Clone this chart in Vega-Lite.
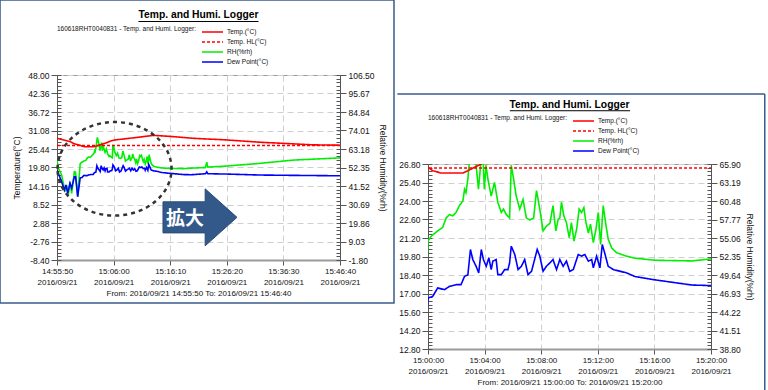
{
  "$schema": "https://vega.github.io/schema/vega-lite/v6.json",
  "padding": {"left": -2, "top": -2, "right": 0, "bottom": 0},
  "background": "white",
  "config": {
    "font": "Liberation Sans",
    "view": {"stroke": "#9a9a9a", "strokeWidth": 1},
    "axis": {"labelFont": "Liberation Sans", "titleFont": "Liberation Sans", "labelColor": "#111", "titleColor": "#111", "titleFontWeight": "normal", "labelOverlap": false, "labelFlush": false, "gridColor": "#cfcfcf", "gridDash": [6, 4], "gridWidth": 1, "tickColor": "#555", "domainColor": "#555"},
    "legend": {"labelFont": "Liberation Sans", "titleFont": "Liberation Sans", "orient": "top", "direction": "vertical", "offset": 9, "titleOrient": "left", "titleFontSize": 6.5, "titleFontWeight": "normal", "titlePadding": 4, "titleAnchor": "start", "titleColor": "#111", "labelColor": "#111", "labelFontSize": 6.5, "symbolType": "M -1 0 L 3.2 0", "symbolSize": 100, "symbolStrokeWidth": 1.5, "labelOffset": 14, "rowPadding": 0}
  },
  "resolve": {"scale": {"color": "independent", "strokeDash": "independent"}, "legend": {"color": "independent", "strokeDash": "independent"}},
  "datasets": {
    "logger": [
      {"time": "2016-09-21T14:55:50", "series": "Temp.(°C)", "value": 28.7},
      {"time": "2016-09-21T14:58:10", "series": "Temp.(°C)", "value": 27.7},
      {"time": "2016-09-21T14:59:00", "series": "Temp.(°C)", "value": 27.0},
      {"time": "2016-09-21T15:00:00", "series": "Temp.(°C)", "value": 26.55},
      {"time": "2016-09-21T15:00:20", "series": "Temp.(°C)", "value": 26.29},
      {"time": "2016-09-21T15:00:55", "series": "Temp.(°C)", "value": 26.12},
      {"time": "2016-09-21T15:02:28", "series": "Temp.(°C)", "value": 26.12},
      {"time": "2016-09-21T15:02:49", "series": "Temp.(°C)", "value": 26.29},
      {"time": "2016-09-21T15:03:17", "series": "Temp.(°C)", "value": 26.55},
      {"time": "2016-09-21T15:03:46", "series": "Temp.(°C)", "value": 26.8},
      {"time": "2016-09-21T15:04:07", "series": "Temp.(°C)", "value": 27.0},
      {"time": "2016-09-21T15:04:40", "series": "Temp.(°C)", "value": 27.3},
      {"time": "2016-09-21T15:05:22", "series": "Temp.(°C)", "value": 27.8},
      {"time": "2016-09-21T15:06:16", "series": "Temp.(°C)", "value": 28.2},
      {"time": "2016-09-21T15:09:52", "series": "Temp.(°C)", "value": 28.9},
      {"time": "2016-09-21T15:13:10", "series": "Temp.(°C)", "value": 29.6},
      {"time": "2016-09-21T15:16:00", "series": "Temp.(°C)", "value": 29.3},
      {"time": "2016-09-21T15:20:20", "series": "Temp.(°C)", "value": 28.7},
      {"time": "2016-09-21T15:26:20", "series": "Temp.(°C)", "value": 28.2},
      {"time": "2016-09-21T15:32:20", "series": "Temp.(°C)", "value": 27.5},
      {"time": "2016-09-21T15:38:20", "series": "Temp.(°C)", "value": 27.0},
      {"time": "2016-09-21T15:41:56", "series": "Temp.(°C)", "value": 26.7},
      {"time": "2016-09-21T15:46:40", "series": "Temp.(°C)", "value": 26.6},
      {"time": "2016-09-21T14:55:50", "series": "Temp. HL(°C)", "value": 26.5},
      {"time": "2016-09-21T15:46:40", "series": "Temp. HL(°C)", "value": 26.5},
      {"time": "2016-09-21T14:55:50", "series": "RH(%rh)", "value": 56.7},
      {"time": "2016-09-21T14:56:04", "series": "RH(%rh)", "value": 51.9},
      {"time": "2016-09-21T14:56:40", "series": "RH(%rh)", "value": 48.0},
      {"time": "2016-09-21T14:57:16", "series": "RH(%rh)", "value": 38.2},
      {"time": "2016-09-21T14:57:34", "series": "RH(%rh)", "value": 42.1},
      {"time": "2016-09-21T14:57:52", "series": "RH(%rh)", "value": 36.2},
      {"time": "2016-09-21T14:58:10", "series": "RH(%rh)", "value": 44.0},
      {"time": "2016-09-21T14:58:28", "series": "RH(%rh)", "value": 37.2},
      {"time": "2016-09-21T14:58:57", "series": "RH(%rh)", "value": 49.9},
      {"time": "2016-09-21T14:59:10", "series": "RH(%rh)", "value": 49.6},
      {"time": "2016-09-21T14:59:33", "series": "RH(%rh)", "value": 35.3},
      {"time": "2016-09-21T15:00:00", "series": "RH(%rh)", "value": 54.6},
      {"time": "2016-09-21T15:00:13", "series": "RH(%rh)", "value": 55.3},
      {"time": "2016-09-21T15:00:41", "series": "RH(%rh)", "value": 56.1},
      {"time": "2016-09-21T15:01:02", "series": "RH(%rh)", "value": 56.6},
      {"time": "2016-09-21T15:01:17", "series": "RH(%rh)", "value": 58.0},
      {"time": "2016-09-21T15:01:31", "series": "RH(%rh)", "value": 58.5},
      {"time": "2016-09-21T15:01:45", "series": "RH(%rh)", "value": 58.3},
      {"time": "2016-09-21T15:01:59", "series": "RH(%rh)", "value": 58.8},
      {"time": "2016-09-21T15:02:13", "series": "RH(%rh)", "value": 59.8},
      {"time": "2016-09-21T15:02:28", "series": "RH(%rh)", "value": 60.5},
      {"time": "2016-09-21T15:02:35", "series": "RH(%rh)", "value": 62.2},
      {"time": "2016-09-21T15:02:41", "series": "RH(%rh)", "value": 61.7},
      {"time": "2016-09-21T15:02:49", "series": "RH(%rh)", "value": 63.7},
      {"time": "2016-09-21T15:03:05", "series": "RH(%rh)", "value": 70.0},
      {"time": "2016-09-21T15:03:15", "series": "RH(%rh)", "value": 67.5},
      {"time": "2016-09-21T15:03:24", "series": "RH(%rh)", "value": 65.7},
      {"time": "2016-09-21T15:03:34", "series": "RH(%rh)", "value": 62.2},
      {"time": "2016-09-21T15:03:43", "series": "RH(%rh)", "value": 65.7},
      {"time": "2016-09-21T15:03:53", "series": "RH(%rh)", "value": 67.0},
      {"time": "2016-09-21T15:03:59", "series": "RH(%rh)", "value": 62.2},
      {"time": "2016-09-21T15:04:06", "series": "RH(%rh)", "value": 65.7},
      {"time": "2016-09-21T15:04:14", "series": "RH(%rh)", "value": 63.7},
      {"time": "2016-09-21T15:04:28", "series": "RH(%rh)", "value": 61.2},
      {"time": "2016-09-21T15:04:42", "series": "RH(%rh)", "value": 63.2},
      {"time": "2016-09-21T15:04:56", "series": "RH(%rh)", "value": 60.3},
      {"time": "2016-09-21T15:05:11", "series": "RH(%rh)", "value": 58.8},
      {"time": "2016-09-21T15:05:20", "series": "RH(%rh)", "value": 59.3},
      {"time": "2016-09-21T15:05:32", "series": "RH(%rh)", "value": 58.5},
      {"time": "2016-09-21T15:05:46", "series": "RH(%rh)", "value": 58.0},
      {"time": "2016-09-21T15:05:53", "series": "RH(%rh)", "value": 65.7},
      {"time": "2016-09-21T15:06:03", "series": "RH(%rh)", "value": 63.7},
      {"time": "2016-09-21T15:06:14", "series": "RH(%rh)", "value": 61.2},
      {"time": "2016-09-21T15:06:29", "series": "RH(%rh)", "value": 59.3},
      {"time": "2016-09-21T15:06:43", "series": "RH(%rh)", "value": 60.7},
      {"time": "2016-09-21T15:06:57", "series": "RH(%rh)", "value": 58.0},
      {"time": "2016-09-21T15:07:11", "series": "RH(%rh)", "value": 57.7},
      {"time": "2016-09-21T15:07:28", "series": "RH(%rh)", "value": 58.0},
      {"time": "2016-09-21T15:07:40", "series": "RH(%rh)", "value": 62.0},
      {"time": "2016-09-21T15:07:54", "series": "RH(%rh)", "value": 59.3},
      {"time": "2016-09-21T15:08:08", "series": "RH(%rh)", "value": 56.1},
      {"time": "2016-09-21T15:08:22", "series": "RH(%rh)", "value": 56.8},
      {"time": "2016-09-21T15:08:37", "series": "RH(%rh)", "value": 57.2},
      {"time": "2016-09-21T15:08:50", "series": "RH(%rh)", "value": 59.8},
      {"time": "2016-09-21T15:09:02", "series": "RH(%rh)", "value": 56.1},
      {"time": "2016-09-21T15:09:12", "series": "RH(%rh)", "value": 57.8},
      {"time": "2016-09-21T15:09:19", "series": "RH(%rh)", "value": 58.0},
      {"time": "2016-09-21T15:09:26", "series": "RH(%rh)", "value": 60.3},
      {"time": "2016-09-21T15:09:36", "series": "RH(%rh)", "value": 58.3},
      {"time": "2016-09-21T15:09:47", "series": "RH(%rh)", "value": 57.3},
      {"time": "2016-09-21T15:09:59", "series": "RH(%rh)", "value": 55.1},
      {"time": "2016-09-21T15:10:08", "series": "RH(%rh)", "value": 57.3},
      {"time": "2016-09-21T15:10:19", "series": "RH(%rh)", "value": 54.6},
      {"time": "2016-09-21T15:10:30", "series": "RH(%rh)", "value": 56.3},
      {"time": "2016-09-21T15:10:41", "series": "RH(%rh)", "value": 59.3},
      {"time": "2016-09-21T15:10:51", "series": "RH(%rh)", "value": 58.8},
      {"time": "2016-09-21T15:11:01", "series": "RH(%rh)", "value": 59.5},
      {"time": "2016-09-21T15:11:10", "series": "RH(%rh)", "value": 57.3},
      {"time": "2016-09-21T15:11:20", "series": "RH(%rh)", "value": 55.8},
      {"time": "2016-09-21T15:11:29", "series": "RH(%rh)", "value": 57.1},
      {"time": "2016-09-21T15:11:41", "series": "RH(%rh)", "value": 54.4},
      {"time": "2016-09-21T15:11:52", "series": "RH(%rh)", "value": 56.3},
      {"time": "2016-09-21T15:12:02", "series": "RH(%rh)", "value": 58.8},
      {"time": "2016-09-21T15:12:12", "series": "RH(%rh)", "value": 54.1},
      {"time": "2016-09-21T15:12:23", "series": "RH(%rh)", "value": 59.8},
      {"time": "2016-09-21T15:12:33", "series": "RH(%rh)", "value": 57.3},
      {"time": "2016-09-21T15:12:44", "series": "RH(%rh)", "value": 54.9},
      {"time": "2016-09-21T15:12:59", "series": "RH(%rh)", "value": 53.6},
      {"time": "2016-09-21T15:13:20", "series": "RH(%rh)", "value": 52.9},
      {"time": "2016-09-21T15:14:02", "series": "RH(%rh)", "value": 52.4},
      {"time": "2016-09-21T15:14:38", "series": "RH(%rh)", "value": 52.1},
      {"time": "2016-09-21T15:16:03", "series": "RH(%rh)", "value": 51.8},
      {"time": "2016-09-21T15:18:39", "series": "RH(%rh)", "value": 51.7},
      {"time": "2016-09-21T15:20:00", "series": "RH(%rh)", "value": 52.0},
      {"time": "2016-09-21T15:22:30", "series": "RH(%rh)", "value": 52.3},
      {"time": "2016-09-21T15:22:44", "series": "RH(%rh)", "value": 55.5},
      {"time": "2016-09-21T15:22:55", "series": "RH(%rh)", "value": 52.6},
      {"time": "2016-09-21T15:26:20", "series": "RH(%rh)", "value": 53.2},
      {"time": "2016-09-21T15:32:20", "series": "RH(%rh)", "value": 54.8},
      {"time": "2016-09-21T15:38:20", "series": "RH(%rh)", "value": 56.7},
      {"time": "2016-09-21T15:44:55", "series": "RH(%rh)", "value": 57.7},
      {"time": "2016-09-21T15:46:40", "series": "RH(%rh)", "value": 58.0},
      {"time": "2016-09-21T14:55:50", "series": "Dew Point(°C)", "value": 19.0},
      {"time": "2016-09-21T14:56:04", "series": "Dew Point(°C)", "value": 18.0},
      {"time": "2016-09-21T14:56:40", "series": "Dew Point(°C)", "value": 15.5},
      {"time": "2016-09-21T14:57:09", "series": "Dew Point(°C)", "value": 12.9},
      {"time": "2016-09-21T14:57:27", "series": "Dew Point(°C)", "value": 14.5},
      {"time": "2016-09-21T14:57:45", "series": "Dew Point(°C)", "value": 11.9},
      {"time": "2016-09-21T14:58:10", "series": "Dew Point(°C)", "value": 15.0},
      {"time": "2016-09-21T14:58:28", "series": "Dew Point(°C)", "value": 13.5},
      {"time": "2016-09-21T14:58:57", "series": "Dew Point(°C)", "value": 17.0},
      {"time": "2016-09-21T14:59:10", "series": "Dew Point(°C)", "value": 17.0},
      {"time": "2016-09-21T14:59:33", "series": "Dew Point(°C)", "value": 10.9},
      {"time": "2016-09-21T15:00:00", "series": "Dew Point(°C)", "value": 16.65},
      {"time": "2016-09-21T15:00:20", "series": "Dew Point(°C)", "value": 16.78},
      {"time": "2016-09-21T15:00:41", "series": "Dew Point(°C)", "value": 17.42},
      {"time": "2016-09-21T15:01:10", "series": "Dew Point(°C)", "value": 17.29},
      {"time": "2016-09-21T15:01:31", "series": "Dew Point(°C)", "value": 17.54},
      {"time": "2016-09-21T15:01:59", "series": "Dew Point(°C)", "value": 17.67},
      {"time": "2016-09-21T15:02:20", "series": "Dew Point(°C)", "value": 17.67},
      {"time": "2016-09-21T15:02:35", "series": "Dew Point(°C)", "value": 18.3},
      {"time": "2016-09-21T15:02:49", "series": "Dew Point(°C)", "value": 18.4},
      {"time": "2016-09-21T15:03:00", "series": "Dew Point(°C)", "value": 20.33},
      {"time": "2016-09-21T15:03:10", "series": "Dew Point(°C)", "value": 19.57},
      {"time": "2016-09-21T15:03:24", "series": "Dew Point(°C)", "value": 19.06},
      {"time": "2016-09-21T15:03:35", "series": "Dew Point(°C)", "value": 18.56},
      {"time": "2016-09-21T15:03:46", "series": "Dew Point(°C)", "value": 20.33},
      {"time": "2016-09-21T15:03:55", "series": "Dew Point(°C)", "value": 19.57},
      {"time": "2016-09-21T15:04:07", "series": "Dew Point(°C)", "value": 19.06},
      {"time": "2016-09-21T15:04:18", "series": "Dew Point(°C)", "value": 19.7},
      {"time": "2016-09-21T15:04:28", "series": "Dew Point(°C)", "value": 18.81},
      {"time": "2016-09-21T15:04:35", "series": "Dew Point(°C)", "value": 19.45},
      {"time": "2016-09-21T15:04:49", "series": "Dew Point(°C)", "value": 19.57},
      {"time": "2016-09-21T15:04:56", "series": "Dew Point(°C)", "value": 18.43},
      {"time": "2016-09-21T15:05:11", "series": "Dew Point(°C)", "value": 18.43},
      {"time": "2016-09-21T15:05:25", "series": "Dew Point(°C)", "value": 18.81},
      {"time": "2016-09-21T15:05:39", "series": "Dew Point(°C)", "value": 18.81},
      {"time": "2016-09-21T15:05:46", "series": "Dew Point(°C)", "value": 19.32},
      {"time": "2016-09-21T15:05:53", "series": "Dew Point(°C)", "value": 20.58},
      {"time": "2016-09-21T15:06:08", "series": "Dew Point(°C)", "value": 19.95},
      {"time": "2016-09-21T15:06:22", "series": "Dew Point(°C)", "value": 18.81},
      {"time": "2016-09-21T15:06:36", "series": "Dew Point(°C)", "value": 19.06},
      {"time": "2016-09-21T15:06:50", "series": "Dew Point(°C)", "value": 19.57},
      {"time": "2016-09-21T15:07:04", "series": "Dew Point(°C)", "value": 18.43},
      {"time": "2016-09-21T15:07:19", "series": "Dew Point(°C)", "value": 18.68},
      {"time": "2016-09-21T15:07:32", "series": "Dew Point(°C)", "value": 19.57},
      {"time": "2016-09-21T15:07:43", "series": "Dew Point(°C)", "value": 20.33},
      {"time": "2016-09-21T15:07:54", "series": "Dew Point(°C)", "value": 19.83},
      {"time": "2016-09-21T15:08:08", "series": "Dew Point(°C)", "value": 18.68},
      {"time": "2016-09-21T15:08:22", "series": "Dew Point(°C)", "value": 19.06},
      {"time": "2016-09-21T15:08:37", "series": "Dew Point(°C)", "value": 19.32},
      {"time": "2016-09-21T15:08:50", "series": "Dew Point(°C)", "value": 19.57},
      {"time": "2016-09-21T15:09:05", "series": "Dew Point(°C)", "value": 18.81},
      {"time": "2016-09-21T15:09:19", "series": "Dew Point(°C)", "value": 19.57},
      {"time": "2016-09-21T15:09:33", "series": "Dew Point(°C)", "value": 19.06},
      {"time": "2016-09-21T15:09:47", "series": "Dew Point(°C)", "value": 19.45},
      {"time": "2016-09-21T15:10:01", "series": "Dew Point(°C)", "value": 18.68},
      {"time": "2016-09-21T15:10:16", "series": "Dew Point(°C)", "value": 18.81},
      {"time": "2016-09-21T15:10:37", "series": "Dew Point(°C)", "value": 19.95},
      {"time": "2016-09-21T15:10:51", "series": "Dew Point(°C)", "value": 19.83},
      {"time": "2016-09-21T15:11:05", "series": "Dew Point(°C)", "value": 19.95},
      {"time": "2016-09-21T15:11:20", "series": "Dew Point(°C)", "value": 19.45},
      {"time": "2016-09-21T15:11:34", "series": "Dew Point(°C)", "value": 19.57},
      {"time": "2016-09-21T15:11:41", "series": "Dew Point(°C)", "value": 18.94},
      {"time": "2016-09-21T15:11:55", "series": "Dew Point(°C)", "value": 19.83},
      {"time": "2016-09-21T15:12:09", "series": "Dew Point(°C)", "value": 18.94},
      {"time": "2016-09-21T15:12:19", "series": "Dew Point(°C)", "value": 20.71},
      {"time": "2016-09-21T15:12:31", "series": "Dew Point(°C)", "value": 19.95},
      {"time": "2016-09-21T15:12:44", "series": "Dew Point(°C)", "value": 19.06},
      {"time": "2016-09-21T15:13:06", "series": "Dew Point(°C)", "value": 18.81},
      {"time": "2016-09-21T15:14:02", "series": "Dew Point(°C)", "value": 18.56},
      {"time": "2016-09-21T15:14:38", "series": "Dew Point(°C)", "value": 18.28},
      {"time": "2016-09-21T15:16:03", "series": "Dew Point(°C)", "value": 18.03},
      {"time": "2016-09-21T15:18:39", "series": "Dew Point(°C)", "value": 17.64},
      {"time": "2016-09-21T15:20:00", "series": "Dew Point(°C)", "value": 17.6},
      {"time": "2016-09-21T15:22:30", "series": "Dew Point(°C)", "value": 17.9},
      {"time": "2016-09-21T15:22:44", "series": "Dew Point(°C)", "value": 18.5},
      {"time": "2016-09-21T15:22:55", "series": "Dew Point(°C)", "value": 17.9},
      {"time": "2016-09-21T15:26:20", "series": "Dew Point(°C)", "value": 17.8},
      {"time": "2016-09-21T15:32:20", "series": "Dew Point(°C)", "value": 17.5},
      {"time": "2016-09-21T15:38:20", "series": "Dew Point(°C)", "value": 17.4},
      {"time": "2016-09-21T15:44:55", "series": "Dew Point(°C)", "value": 17.3},
      {"time": "2016-09-21T15:46:40", "series": "Dew Point(°C)", "value": 17.3}
    ]
  },
  "hconcat": [
    {
      "width": 283,
      "height": 185,
      "title": {"text": "Temp. and Humi. Logger", "fontSize": 10.3, "fontWeight": "bold", "anchor": "middle", "frame": "group", "offset": -21, "color": "#000"},
      "layer": [
        {
          "data": {"values": [{"start": "2016-09-21T14:45:36", "end": "2016-09-21T15:56:22", "low": -21.51, "high": 70.86}]},
          "mark": {"type": "rect", "fillOpacity": 0, "stroke": "#3a5c8c", "strokeWidth": 1.5},
          "encoding": {
            "x": {"field": "start", "type": "temporal"},
            "x2": {"field": "end"},
            "y": {"field": "low", "type": "quantitative", "scale": {"domain": [-8.4, 48], "nice": false, "zero": false}, "axis": null},
            "y2": {"field": "high"}
          }
        },
        {
          "data": {"name": "logger"},
          "transform": [{"filter": "datum.series == 'RH(%rh)'"}],
          "mark": {"type": "line", "strokeWidth": 1.6, "clip": true},
          "encoding": {
            "x": {"field": "time", "type": "temporal", "scale": {"domain": [{"year": 2016, "month": 9, "date": 21, "hours": 14, "minutes": 55, "seconds": 50}, {"year": 2016, "month": 9, "date": 21, "hours": 15, "minutes": 46, "seconds": 40}]},
              "axis": {"values": [{"year": 2016, "month": 9, "date": 21, "hours": 14, "minutes": 55, "seconds": 50}, {"year": 2016, "month": 9, "date": 21, "hours": 15, "minutes": 6, "seconds": 0}, {"year": 2016, "month": 9, "date": 21, "hours": 15, "minutes": 16, "seconds": 10}, {"year": 2016, "month": 9, "date": 21, "hours": 15, "minutes": 26, "seconds": 20}, {"year": 2016, "month": 9, "date": 21, "hours": 15, "minutes": 36, "seconds": 30}, {"year": 2016, "month": 9, "date": 21, "hours": 15, "minutes": 46, "seconds": 40}],
                "labelExpr": "[timeFormat(datum.value, '%H:%M:%S'), timeFormat(datum.value, '%Y/%m/%d')]", "labelFontSize": 8, "labelLineHeight": 11, "tickSize": 5, "labelPadding": 2, "domainColor": "#9a9a9a", "domainWidth": 2, "title": "From: 2016/09/21 14:55:50   To: 2016/09/21 15:46:40", "titleFontSize": 8, "titlePadding": 3}},
            "y": {"field": "value", "type": "quantitative", "scale": {"domain": [-1.8, 106.5], "nice": false, "zero": false},
              "axis": {"orient": "right", "values": [-1.8, 9.03, 19.86, 30.69, 41.52, 52.35, 63.18, 74.01, 84.84, 95.67, 106.5], "labelExpr": "replace(format(datum.value, '.2f'), '−', '-')", "grid": false, "labelFontSize": 8.5, "tickSize": 6, "labelPadding": 2, "title": "Relative Humidity(%rh)", "titleFontSize": 8.5, "titlePadding": 4}},
            "color": {"field": "series", "type": "nominal", "scale": {"domain": ["Temp.(°C)", "Temp. HL(°C)", "RH(%rh)", "Dew Point(°C)"], "range": ["#ff0000", "#ff0000", "#00ee00", "#0000ff"]},
              "legend": {"title": "160618RHT0040831 - Temp. and Humi. Logger:"}},
            "strokeDash": {"field": "series", "type": "nominal", "scale": {"domain": ["Temp.(°C)", "Temp. HL(°C)", "RH(%rh)", "Dew Point(°C)"], "range": [[1, 0], [3, 2], [1, 0], [1, 0]]},
              "legend": {"title": "160618RHT0040831 - Temp. and Humi. Logger:"}}
          }
        },
        {
          "data": {"name": "logger"},
          "transform": [{"filter": "datum.series != 'RH(%rh)'"}],
          "mark": {"type": "line", "strokeWidth": 1.6, "clip": true},
          "encoding": {
            "x": {"field": "time", "type": "temporal"},
            "y": {"field": "value", "type": "quantitative", "scale": {"domain": [-8.4, 48], "nice": false, "zero": false},
              "axis": {"orient": "left", "values": [-8.4, -2.76, 2.88, 8.52, 14.16, 19.8, 25.44, 31.08, 36.72, 42.36, 48], "labelExpr": "replace(format(datum.value, '.2f'), '−', '-')", "grid": true, "labelFontSize": 8.5, "tickSize": 6, "labelPadding": 2, "title": "Temperature(°C)", "titleFontSize": 8.5, "titlePadding": 6}},
            "color": {"field": "series", "type": "nominal"},
            "strokeDash": {"field": "series", "type": "nominal"}
          }
        },
        {
          "data": {"name": "logger"},
          "transform": [{"filter": "datum.series == 'Dew Point(°C)'"}],
          "mark": {"type": "line", "opacity": 0},
          "encoding": {
            "x": {"field": "time", "type": "temporal"},
            "y": {"field": "value", "type": "quantitative", "scale": {"domain": [-8.4, 48], "nice": false, "zero": false},
              "axis": {"orient": "left", "values": [-8.4, -7.272, -6.144, -5.016, -3.888, -2.76, -1.632, -0.504, 0.624, 1.752, 2.88, 4.008, 5.136, 6.264, 7.392, 8.52, 9.648, 10.776, 11.904, 13.032, 14.16, 15.288, 16.416, 17.544, 18.672, 19.8, 20.928, 22.056, 23.184, 24.312, 25.44, 26.568, 27.696, 28.824, 29.952, 31.08, 32.208, 33.336, 34.464, 35.592, 36.72, 37.848, 38.976, 40.104, 41.232, 42.36, 43.488, 44.616, 45.744, 46.872, 48], "labels": false, "tickSize": -4, "domain": false, "grid": false, "title": null}}
          }
        },
        {
          "data": {"name": "logger"},
          "transform": [{"filter": "datum.series == 'RH(%rh)'"}],
          "mark": {"type": "line", "opacity": 0},
          "encoding": {
            "x": {"field": "time", "type": "temporal"},
            "y": {"field": "value", "type": "quantitative", "scale": {"domain": [-1.8, 106.5], "nice": false, "zero": false},
              "axis": {"orient": "right", "values": [-1.8, 0.366, 2.532, 4.698, 6.864, 9.03, 11.196, 13.362, 15.528, 17.694, 19.86, 22.026, 24.192, 26.358, 28.524, 30.69, 32.856, 35.022, 37.188, 39.354, 41.52, 43.686, 45.852, 48.018, 50.184, 52.35, 54.516, 56.682, 58.848, 61.014, 63.18, 65.346, 67.512, 69.678, 71.844, 74.01, 76.176, 78.342, 80.508, 82.674, 84.84, 87.006, 89.172, 91.338, 93.504, 95.67, 97.836, 100.002, 102.168, 104.334, 106.5], "labels": false, "tickSize": -4, "domain": false, "grid": false, "title": null}}
          }
        },
        {
          "data": {"values": [{"start": "2016-09-21T15:10:28", "end": "2016-09-21T15:32:02", "level": 64.31}]},
          "mark": {"type": "rule", "color": "#000000", "strokeWidth": 1},
          "encoding": {
            "x": {"field": "start", "type": "temporal"},
            "x2": {"field": "end"},
            "y": {"field": "level", "type": "quantitative", "scale": {"domain": [-8.4, 48], "nice": false, "zero": false}, "axis": null}
          }
        },
        {
          "data": {"values": [{"time": "2016-09-21T15:06:10", "value": 19.4}]},
          "mark": {"type": "point", "shape": "M -1 0 A 1 0.82 0 1 1 1 0 A 1 0.82 0 1 1 -1 0 Z", "size": 12996, "filled": false, "stroke": "#333333", "strokeWidth": 2.5, "strokeDash": [4, 4], "opacity": 1},
          "encoding": {
            "x": {"field": "time", "type": "temporal"},
            "y": {"field": "value", "type": "quantitative", "scale": {"domain": [-8.4, 48], "nice": false, "zero": false}, "axis": null}
          }
        },
        {
          "data": {"values": [{"time": "2016-09-21T15:21:31", "value": 4.6}]},
          "mark": {"type": "point", "shape": "M -1 -0.42 L 0.14 -0.42 L 0.14 -0.77 L 1 0 L 0.14 0.77 L 0.14 0.42 L -1 0.42 Z", "size": 5476, "filled": true, "fill": "#33598a", "stroke": "#2a4a75", "strokeWidth": 1, "opacity": 1},
          "encoding": {
            "x": {"field": "time", "type": "temporal"},
            "y": {"field": "value", "type": "quantitative", "scale": {"domain": [-8.4, 48], "nice": false, "zero": false}, "axis": null}
          }
        },
        {
          "data": {"values": [{"time": "2016-09-21T15:18:50", "value": 4.2, "label": "拡大"}]},
          "mark": {"type": "text", "font": "Noto Sans CJK JP", "fontWeight": "bold", "fontSize": 19, "color": "#ffffff", "baseline": "middle", "align": "center"},
          "encoding": {
            "x": {"field": "time", "type": "temporal"},
            "y": {"field": "value", "type": "quantitative", "scale": {"domain": [-8.4, 48], "nice": false, "zero": false}, "axis": null},
            "text": {"field": "label"}
          }
        }
      ],
      "resolve": {"scale": {"y": "independent"}}
    },
    {
      "spacing": 0,
      "resolve": {"scale": {"color": "independent", "strokeDash": "independent"}, "legend": {"color": "independent", "strokeDash": "independent"}},
      "vconcat": [
        {
          "width": 10,
          "height": 17,
          "data": {"values": [{}]},
          "mark": {"type": "text"},
          "encoding": {},
          "view": {"stroke": null}
        },
        {
          "width": 283,
          "height": 185,
          "title": {"text": "Temp. and Humi. Logger", "fontSize": 10.3, "fontWeight": "bold", "anchor": "middle", "frame": "group", "offset": -17, "color": "#000"},
          "layer": [
            {
              "data": {"values": [{"start": "2016-09-21T14:57:50", "end": "2016-09-21T15:23:48", "top": 32.09, "bottom": 32.09}, {"start": "2016-09-21T15:23:48", "end": "2016-09-21T15:23:48", "top": 32.09, "bottom": 9.18}]},
              "mark": {"type": "rule", "color": "#3a5c8c", "strokeWidth": 1.5},
              "encoding": {
                "x": {"field": "start", "type": "temporal"},
                "x2": {"field": "end"},
                "y": {"field": "top", "type": "quantitative", "scale": {"domain": [12.8, 26.8], "nice": false, "zero": false}, "axis": null},
                "y2": {"field": "bottom"}
              }
            },
            {
              "data": {"name": "logger"},
              "transform": [{"filter": "datum.series == 'RH(%rh)'"}],
              "mark": {"type": "line", "strokeWidth": 1.6, "clip": true},
              "encoding": {
                "x": {"field": "time", "type": "temporal", "scale": {"domain": [{"year": 2016, "month": 9, "date": 21, "hours": 15, "minutes": 0, "seconds": 0}, {"year": 2016, "month": 9, "date": 21, "hours": 15, "minutes": 20, "seconds": 0}]},
                  "axis": {"values": [{"year": 2016, "month": 9, "date": 21, "hours": 15, "minutes": 0}, {"year": 2016, "month": 9, "date": 21, "hours": 15, "minutes": 4}, {"year": 2016, "month": 9, "date": 21, "hours": 15, "minutes": 8}, {"year": 2016, "month": 9, "date": 21, "hours": 15, "minutes": 12}, {"year": 2016, "month": 9, "date": 21, "hours": 15, "minutes": 16}, {"year": 2016, "month": 9, "date": 21, "hours": 15, "minutes": 20}],
                    "labelExpr": "[timeFormat(datum.value, '%H:%M:%S'), timeFormat(datum.value, '%Y/%m/%d')]", "labelFontSize": 8, "labelLineHeight": 11, "tickSize": 5, "labelPadding": 2, "domainColor": "#9a9a9a", "domainWidth": 2, "title": "From: 2016/09/21 15:00:00   To: 2016/09/21 15:20:00", "titleFontSize": 8, "titlePadding": 3}},
                "y": {"field": "value", "type": "quantitative", "scale": {"domain": [38.8, 65.9], "nice": false, "zero": false},
                  "axis": {"orient": "right", "values": [38.8, 41.51, 44.22, 46.93, 49.64, 52.35, 55.06, 57.77, 60.48, 63.19, 65.9], "labelExpr": "replace(format(datum.value, '.2f'), '−', '-')", "grid": false, "labelFontSize": 8.5, "tickSize": 6, "labelPadding": 2, "title": "Relative Humidity(%rh)", "titleFontSize": 8.5, "titlePadding": 4}},
                "color": {"field": "series", "type": "nominal", "scale": {"domain": ["Temp.(°C)", "Temp. HL(°C)", "RH(%rh)", "Dew Point(°C)"], "range": ["#ff0000", "#ff0000", "#00ee00", "#0000ff"]},
                  "legend": {"title": "160618RHT0040831 - Temp. and Humi. Logger:"}},
                "strokeDash": {"field": "series", "type": "nominal", "scale": {"domain": ["Temp.(°C)", "Temp. HL(°C)", "RH(%rh)", "Dew Point(°C)"], "range": [[1, 0], [3, 2], [1, 0], [1, 0]]},
                  "legend": {"title": "160618RHT0040831 - Temp. and Humi. Logger:"}}
              }
            },
            {
              "data": {"name": "logger"},
              "transform": [{"filter": "datum.series != 'RH(%rh)'"}],
              "mark": {"type": "line", "strokeWidth": 1.6, "clip": true},
              "encoding": {
                "x": {"field": "time", "type": "temporal"},
                "y": {"field": "value", "type": "quantitative", "scale": {"domain": [12.8, 26.8], "nice": false, "zero": false},
                  "axis": {"orient": "left", "values": [12.8, 14.2, 15.6, 17.0, 18.4, 19.8, 21.2, 22.6, 24.0, 25.4, 26.8], "labelExpr": "replace(format(datum.value, '.2f'), '−', '-')", "grid": true, "labelFontSize": 8.5, "tickSize": 6, "labelPadding": 2, "title": null}},
                "color": {"field": "series", "type": "nominal"},
                "strokeDash": {"field": "series", "type": "nominal"}
              }
            },
            {
              "data": {"name": "logger"},
              "transform": [{"filter": "datum.series == 'Dew Point(°C)'"}],
              "mark": {"type": "line", "opacity": 0, "clip": true},
              "encoding": {
                "x": {"field": "time", "type": "temporal"},
                "y": {"field": "value", "type": "quantitative", "scale": {"domain": [12.8, 26.8], "nice": false, "zero": false},
                  "axis": {"orient": "left", "values": [12.8, 13.08, 13.36, 13.64, 13.92, 14.2, 14.48, 14.76, 15.04, 15.32, 15.6, 15.88, 16.16, 16.44, 16.72, 17.0, 17.28, 17.56, 17.84, 18.12, 18.4, 18.68, 18.96, 19.24, 19.52, 19.8, 20.08, 20.36, 20.64, 20.92, 21.2, 21.48, 21.76, 22.04, 22.32, 22.6, 22.88, 23.16, 23.44, 23.72, 24.0, 24.28, 24.56, 24.84, 25.12, 25.4, 25.68, 25.96, 26.24, 26.52, 26.8], "labels": false, "tickSize": -4, "domain": false, "grid": false, "title": null}}
              }
            },
            {
              "data": {"name": "logger"},
              "transform": [{"filter": "datum.series == 'RH(%rh)'"}],
              "mark": {"type": "line", "opacity": 0, "clip": true},
              "encoding": {
                "x": {"field": "time", "type": "temporal"},
                "y": {"field": "value", "type": "quantitative", "scale": {"domain": [38.8, 65.9], "nice": false, "zero": false},
                  "axis": {"orient": "right", "values": [38.8, 39.342, 39.884, 40.426, 40.968, 41.51, 42.052, 42.594, 43.136, 43.678, 44.22, 44.762, 45.304, 45.846, 46.388, 46.93, 47.472, 48.014, 48.556, 49.098, 49.64, 50.182, 50.724, 51.266, 51.808, 52.35, 52.892, 53.434, 53.976, 54.518, 55.06, 55.602, 56.144, 56.686, 57.228, 57.77, 58.312, 58.854, 59.396, 59.938, 60.48, 61.022, 61.564, 62.106, 62.648, 63.19, 63.732, 64.274, 64.816, 65.358, 65.9], "labels": false, "tickSize": -4, "domain": false, "grid": false, "title": null}}
              }
            },
            {
              "data": {"values": [{"start": "2016-09-21T15:05:47", "end": "2016-09-21T15:14:17", "level": 30.83}]},
              "mark": {"type": "rule", "color": "#000000", "strokeWidth": 1},
              "encoding": {
                "x": {"field": "start", "type": "temporal"},
                "x2": {"field": "end"},
                "y": {"field": "level", "type": "quantitative", "scale": {"domain": [12.8, 26.8], "nice": false, "zero": false}, "axis": null}
              }
            }
          ],
          "resolve": {"scale": {"y": "independent"}}
        }
      ]
    }
  ],
  "spacing": 0
}
